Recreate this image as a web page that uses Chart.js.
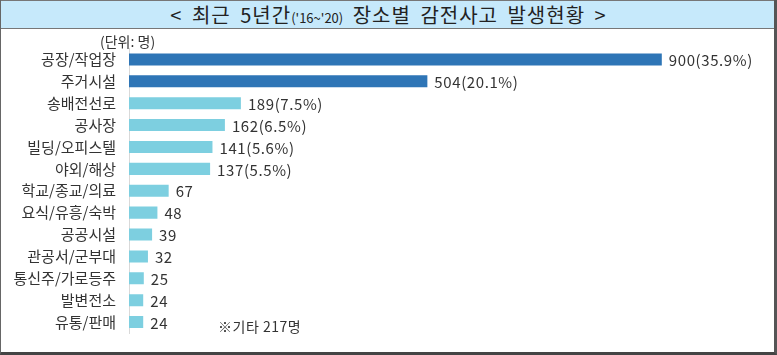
<!DOCTYPE html>
<html>
<head>
<meta charset="utf-8">
<script src="https://cdn.jsdelivr.net/npm/chart.js@4/dist/chart.umd.min.js"></script>
<style>
  html, body { margin: 0; padding: 0; background: #fff; }
  #wrap { position: relative; width: 777px; height: 355px; overflow: hidden; font-family: "Noto Sans CJK KR", "Noto Sans", sans-serif; }
  #c { position: absolute; left: 0; top: 0; }
  #title { position: absolute; left: 0; top: 0; width: 777px; height: 29px; box-sizing: border-box;
    background: #c6e9fb; border-top: 1px solid #777; border-bottom: 1px solid #777;
    text-align: center; line-height: 27px; font-size: 20px; letter-spacing: 1px; word-spacing: 4px; color: #222; z-index: 2; }
  #title small { font-size: 13px; letter-spacing: 0; }
  #unit { position: absolute; left: 100px; top: 31px; font-size: 14px; color: #333; z-index: 2; }
  #note { position: absolute; left: 218px; top: 316px; font-size: 14px; letter-spacing: 0.5px; color: #333; z-index: 2; }
  #frame { position: absolute; left: 0; top: 0; width: 777px; height: 355px; box-sizing: border-box;
    border-left: 1px solid #666; border-right: 3px solid #555; border-bottom: 3px solid #444; z-index: 3; pointer-events: none; }
</style>
</head>
<body>
<div id="wrap">
  <canvas id="c" width="777" height="355"></canvas>
  <div id="title">&lt; 최근 5년간<small>('16~'20)</small> 장소별 감전사고 발생현황 &gt;</div>
  <div id="unit">(단위: 명)</div>
  <div id="note">※기타 217명</div>
  <div id="frame"></div>
</div>
<script>
const categories = ["공장/작업장", "주거시설", "송배전선로", "공사장", "빌딩/오피스텔", "야외/해상", "학교/종교/의료", "요식/유흥/숙박", "공공시설", "관공서/군부대", "통신주/가로등주", "발변전소", "유통/판매"];
const values = [900, 504, 189, 162, 141, 137, 67, 48, 39, 32, 25, 24, 24];
const shares = ["35.9%", "20.1%", "7.5%", "6.5%", "5.6%", "5.5%", "", "", "", "", "", "", ""];

const DARK = "#2e75b6", LIGHT = "#7dcfe0";
const colors = values.map((v, i) => i < 2 ? DARK : LIGHT);

const valueLabels = {
  id: "valueLabels",
  afterDatasetsDraw(chart) {
    const ctx = chart.ctx;
    const meta = chart.getDatasetMeta(0);
    ctx.save();
    ctx.font = '15px "Noto Sans CJK KR", "Noto Sans", sans-serif';
    ctx.letterSpacing = "0.6px";
    ctx.fillStyle = "#333";
    ctx.textAlign = "left";
    ctx.textBaseline = "middle";
    meta.data.forEach((bar, i) => {
      const txt = shares[i] ? values[i] + "(" + shares[i] + ")" : String(values[i]);
      ctx.fillText(txt, bar.x + 7, bar.y + 1);
    });
    ctx.restore();
  }
};

new Chart(document.getElementById("c"), {
  type: "bar",
  data: {
    labels: categories,
    datasets: [{
      data: values,
      backgroundColor: colors,
      borderWidth: 0,
      barPercentage: 0.55,
      categoryPercentage: 1.0
    }]
  },
  options: {
    indexAxis: "y",
    responsive: false,
    animation: false,
    layout: { padding: { left: 0, right: 56, top: 48.5, bottom: 6.5 } },
    plugins: { legend: { display: false }, tooltip: { enabled: false } },
    scales: {
      x: { display: false, min: 0, max: 1000 },
      y: {
        afterFit(scale) { scale.width = 129; },
        grid: { display: false, drawTicks: false },
        border: { display: true, color: "#d9d9d9", width: 1 },
        ticks: {
          padding: 13,
          color: "#333",
          font: { family: '"Noto Sans CJK KR", "Noto Sans", sans-serif', size: 15 }
        }
      }
    }
  },
  plugins: [valueLabels]
});
</script>
</body>
</html>
